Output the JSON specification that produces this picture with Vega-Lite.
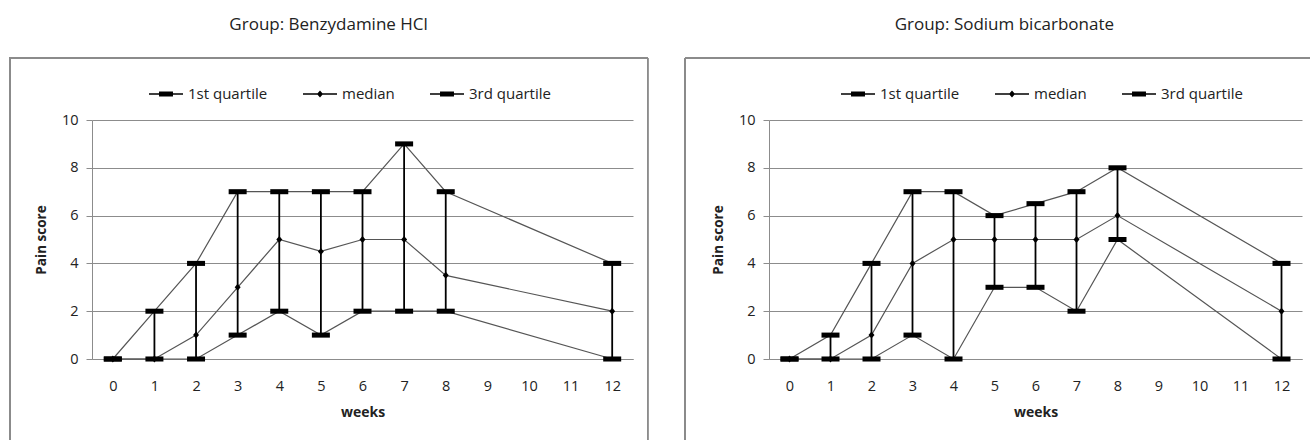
{
  "$schema": "https://vega.github.io/schema/vega-lite/v6.json",
  "padding": {"left": 9, "top": 15, "right": 0, "bottom": 0},
  "background": "white",
  "config": {"font": "Open Sans", "view": {"stroke": null}},
  "data": {"values": [
    {"group": "Benzydamine HCl", "week": 0, "stat": "1st quartile", "value": 0},
    {"group": "Benzydamine HCl", "week": 0, "stat": "median", "value": 0},
    {"group": "Benzydamine HCl", "week": 0, "stat": "3rd quartile", "value": 0},
    {"group": "Benzydamine HCl", "week": 1, "stat": "1st quartile", "value": 0},
    {"group": "Benzydamine HCl", "week": 1, "stat": "median", "value": 0},
    {"group": "Benzydamine HCl", "week": 1, "stat": "3rd quartile", "value": 2},
    {"group": "Benzydamine HCl", "week": 2, "stat": "1st quartile", "value": 0},
    {"group": "Benzydamine HCl", "week": 2, "stat": "median", "value": 1},
    {"group": "Benzydamine HCl", "week": 2, "stat": "3rd quartile", "value": 4},
    {"group": "Benzydamine HCl", "week": 3, "stat": "1st quartile", "value": 1},
    {"group": "Benzydamine HCl", "week": 3, "stat": "median", "value": 3},
    {"group": "Benzydamine HCl", "week": 3, "stat": "3rd quartile", "value": 7},
    {"group": "Benzydamine HCl", "week": 4, "stat": "1st quartile", "value": 2},
    {"group": "Benzydamine HCl", "week": 4, "stat": "median", "value": 5},
    {"group": "Benzydamine HCl", "week": 4, "stat": "3rd quartile", "value": 7},
    {"group": "Benzydamine HCl", "week": 5, "stat": "1st quartile", "value": 1},
    {"group": "Benzydamine HCl", "week": 5, "stat": "median", "value": 4.5},
    {"group": "Benzydamine HCl", "week": 5, "stat": "3rd quartile", "value": 7},
    {"group": "Benzydamine HCl", "week": 6, "stat": "1st quartile", "value": 2},
    {"group": "Benzydamine HCl", "week": 6, "stat": "median", "value": 5},
    {"group": "Benzydamine HCl", "week": 6, "stat": "3rd quartile", "value": 7},
    {"group": "Benzydamine HCl", "week": 7, "stat": "1st quartile", "value": 2},
    {"group": "Benzydamine HCl", "week": 7, "stat": "median", "value": 5},
    {"group": "Benzydamine HCl", "week": 7, "stat": "3rd quartile", "value": 9},
    {"group": "Benzydamine HCl", "week": 8, "stat": "1st quartile", "value": 2},
    {"group": "Benzydamine HCl", "week": 8, "stat": "median", "value": 3.5},
    {"group": "Benzydamine HCl", "week": 8, "stat": "3rd quartile", "value": 7},
    {"group": "Benzydamine HCl", "week": 12, "stat": "1st quartile", "value": 0},
    {"group": "Benzydamine HCl", "week": 12, "stat": "median", "value": 2},
    {"group": "Benzydamine HCl", "week": 12, "stat": "3rd quartile", "value": 4},
    {"group": "Sodium bicarbonate", "week": 0, "stat": "1st quartile", "value": 0},
    {"group": "Sodium bicarbonate", "week": 0, "stat": "median", "value": 0},
    {"group": "Sodium bicarbonate", "week": 0, "stat": "3rd quartile", "value": 0},
    {"group": "Sodium bicarbonate", "week": 1, "stat": "1st quartile", "value": 0},
    {"group": "Sodium bicarbonate", "week": 1, "stat": "median", "value": 0},
    {"group": "Sodium bicarbonate", "week": 1, "stat": "3rd quartile", "value": 1},
    {"group": "Sodium bicarbonate", "week": 2, "stat": "1st quartile", "value": 0},
    {"group": "Sodium bicarbonate", "week": 2, "stat": "median", "value": 1},
    {"group": "Sodium bicarbonate", "week": 2, "stat": "3rd quartile", "value": 4},
    {"group": "Sodium bicarbonate", "week": 3, "stat": "1st quartile", "value": 1},
    {"group": "Sodium bicarbonate", "week": 3, "stat": "median", "value": 4},
    {"group": "Sodium bicarbonate", "week": 3, "stat": "3rd quartile", "value": 7},
    {"group": "Sodium bicarbonate", "week": 4, "stat": "1st quartile", "value": 0},
    {"group": "Sodium bicarbonate", "week": 4, "stat": "median", "value": 5},
    {"group": "Sodium bicarbonate", "week": 4, "stat": "3rd quartile", "value": 7},
    {"group": "Sodium bicarbonate", "week": 5, "stat": "1st quartile", "value": 3},
    {"group": "Sodium bicarbonate", "week": 5, "stat": "median", "value": 5},
    {"group": "Sodium bicarbonate", "week": 5, "stat": "3rd quartile", "value": 6},
    {"group": "Sodium bicarbonate", "week": 6, "stat": "1st quartile", "value": 3},
    {"group": "Sodium bicarbonate", "week": 6, "stat": "median", "value": 5},
    {"group": "Sodium bicarbonate", "week": 6, "stat": "3rd quartile", "value": 6.5},
    {"group": "Sodium bicarbonate", "week": 7, "stat": "1st quartile", "value": 2},
    {"group": "Sodium bicarbonate", "week": 7, "stat": "median", "value": 5},
    {"group": "Sodium bicarbonate", "week": 7, "stat": "3rd quartile", "value": 7},
    {"group": "Sodium bicarbonate", "week": 8, "stat": "1st quartile", "value": 5},
    {"group": "Sodium bicarbonate", "week": 8, "stat": "median", "value": 6},
    {"group": "Sodium bicarbonate", "week": 8, "stat": "3rd quartile", "value": 8},
    {"group": "Sodium bicarbonate", "week": 12, "stat": "1st quartile", "value": 0},
    {"group": "Sodium bicarbonate", "week": 12, "stat": "median", "value": 2},
    {"group": "Sodium bicarbonate", "week": 12, "stat": "3rd quartile", "value": 4}
  ]},
  "spacing": 35,
  "resolve": {"scale": {"shape": "independent", "x": "independent", "y": "independent"}, "legend": {"shape": "independent"}},
  "hconcat": [
    {
      "title": {"text": "Group: Benzydamine HCl", "fontSize": 17, "fontWeight": "normal", "color": "#222", "offset": 24, "frame": "bounds", "anchor": "middle"},
      "width": 541,
      "height": 239,
      "transform": [{"filter": "datum.group === 'Benzydamine HCl'"}],
      "layer": [
        {
          "mark": {"type": "rect", "fillOpacity": 0, "stroke": "#8c8c8c", "strokeWidth": 1},
          "encoding": {
            "x": {"datum": -2.48, "type": "quantitative", "title": "weeks"},
            "x2": {"datum": 12.85},
            "y": {"datum": 12.59, "type": "quantitative", "title": "Pain score"},
            "y2": {"datum": -3.6}
          }
        },
        {
          "mark": {"type": "line", "color": "#555555", "strokeWidth": 1.2},
          "encoding": {
            "x": {"field": "week", "type": "quantitative", "title": "weeks",
              "scale": {"domain": [-0.5, 12.5], "nice": false, "zero": false},
              "axis": {"values": [0,1,2,3,4,5,6,7,8,9,10,11,12], "grid": false, "ticks": false, "domainColor": "#8c8c8c", "labelFontSize": 14.5, "labelColor": "#222", "labelPadding": 20, "titleFontSize": 14, "titleFontWeight": "bold", "titleColor": "#222", "titlePadding": 13}},
            "y": {"field": "value", "type": "quantitative", "title": "Pain score",
              "scale": {"domain": [0, 10], "nice": false},
              "axis": {"values": [0,2,4,6,8,10], "grid": true, "gridColor": "#8c8c8c", "tickColor": "#8c8c8c", "tickSize": 6, "domainColor": "#8c8c8c", "labelFontSize": 14.5, "labelColor": "#222", "labelPadding": 8, "titleFontSize": 13.5, "titleFontWeight": "bold", "titleColor": "#222", "titlePadding": 13}},
            "detail": {"field": "stat"}
          }
        },
        {
          "mark": {"type": "rule", "color": "black", "strokeWidth": 1.8},
          "encoding": {
            "x": {"field": "week", "type": "quantitative", "title": "weeks"},
            "y": {"aggregate": "min", "field": "value", "type": "quantitative", "title": "Pain score"},
            "y2": {"aggregate": "max", "field": "value"}
          }
        },
        {
          "mark": {"type": "point", "filled": true, "color": "black", "opacity": 1, "size": 324},
          "encoding": {
            "x": {"field": "week", "type": "quantitative", "title": "weeks"},
            "y": {"field": "value", "type": "quantitative", "title": "Pain score"},
            "shape": {"condition": {"test": "datum.stat === 'median'", "value": "M0,-0.39L0.33,0L0,0.39L-0.33,0Z"}, "value": "M-1,-0.28H1V0.28H-1Z"}
          }
        },
        {
          "transform": [{"filter": "false"}],
          "mark": {"type": "point", "filled": true, "color": "black", "opacity": 1},
          "encoding": {
            "x": {"field": "week", "type": "quantitative", "title": "weeks"},
            "y": {"field": "value", "type": "quantitative", "title": "Pain score"},
            "shape": {"field": "stat", "type": "nominal",
              "scale": {"domain": ["1st quartile", "median", "3rd quartile"], "range": ["M-1,-0.04H1V0.04H-1ZM-0.41,-0.15H0.41V0.15H-0.41Z", "M-1,-0.04H1V0.04H-1ZM0,-0.2L0.18,0L0,0.2L-0.18,0Z", "M-1,-0.04H1V0.04H-1ZM-0.41,-0.15H0.41V0.15H-0.41Z"]},
              "legend": {"title": null, "orient": "none", "legendX": 56, "legendY": -44, "direction": "horizontal", "labelFontSize": 15, "labelColor": "#222", "columnPadding": 32, "symbolSize": 1156, "labelOffset": 4, "symbolFillColor": "black", "symbolOpacity": 1}}
          }
        }
      ]
    },
    {
      "title": {"text": "Group: Sodium bicarbonate", "fontSize": 17, "fontWeight": "normal", "color": "#222", "offset": 24, "frame": "bounds", "anchor": "middle"},
      "width": 533,
      "height": 239,
      "transform": [{"filter": "datum.group === 'Sodium bicarbonate'"}],
      "layer": [
        {
          "mark": {"type": "rect", "fillOpacity": 0, "stroke": "#8c8c8c", "strokeWidth": 1},
          "encoding": {
            "x": {"datum": -2.54, "type": "quantitative", "title": "weeks"},
            "x2": {"datum": 13.02},
            "y": {"datum": 12.59, "type": "quantitative", "title": "Pain score"},
            "y2": {"datum": -3.6}
          }
        },
        {
          "mark": {"type": "line", "color": "#555555", "strokeWidth": 1.2},
          "encoding": {
            "x": {"field": "week", "type": "quantitative", "title": "weeks",
              "scale": {"domain": [-0.5, 12.5], "nice": false, "zero": false},
              "axis": {"values": [0,1,2,3,4,5,6,7,8,9,10,11,12], "grid": false, "ticks": false, "domainColor": "#8c8c8c", "labelFontSize": 14.5, "labelColor": "#222", "labelPadding": 20, "titleFontSize": 14, "titleFontWeight": "bold", "titleColor": "#222", "titlePadding": 13}},
            "y": {"field": "value", "type": "quantitative", "title": "Pain score",
              "scale": {"domain": [0, 10], "nice": false},
              "axis": {"values": [0,2,4,6,8,10], "grid": true, "gridColor": "#8c8c8c", "tickColor": "#8c8c8c", "tickSize": 6, "domainColor": "#8c8c8c", "labelFontSize": 14.5, "labelColor": "#222", "labelPadding": 8, "titleFontSize": 13.5, "titleFontWeight": "bold", "titleColor": "#222", "titlePadding": 13}},
            "detail": {"field": "stat"}
          }
        },
        {
          "mark": {"type": "rule", "color": "black", "strokeWidth": 1.8},
          "encoding": {
            "x": {"field": "week", "type": "quantitative", "title": "weeks"},
            "y": {"aggregate": "min", "field": "value", "type": "quantitative", "title": "Pain score"},
            "y2": {"aggregate": "max", "field": "value"}
          }
        },
        {
          "mark": {"type": "point", "filled": true, "color": "black", "opacity": 1, "size": 324},
          "encoding": {
            "x": {"field": "week", "type": "quantitative", "title": "weeks"},
            "y": {"field": "value", "type": "quantitative", "title": "Pain score"},
            "shape": {"condition": {"test": "datum.stat === 'median'", "value": "M0,-0.39L0.33,0L0,0.39L-0.33,0Z"}, "value": "M-1,-0.28H1V0.28H-1Z"}
          }
        },
        {
          "transform": [{"filter": "false"}],
          "mark": {"type": "point", "filled": true, "color": "black", "opacity": 1},
          "encoding": {
            "x": {"field": "week", "type": "quantitative", "title": "weeks"},
            "y": {"field": "value", "type": "quantitative", "title": "Pain score"},
            "shape": {"field": "stat", "type": "nominal",
              "scale": {"domain": ["1st quartile", "median", "3rd quartile"], "range": ["M-1,-0.04H1V0.04H-1ZM-0.41,-0.15H0.41V0.15H-0.41Z", "M-1,-0.04H1V0.04H-1ZM0,-0.2L0.18,0L0,0.2L-0.18,0Z", "M-1,-0.04H1V0.04H-1ZM-0.41,-0.15H0.41V0.15H-0.41Z"]},
              "legend": {"title": null, "orient": "none", "legendX": 71, "legendY": -44, "direction": "horizontal", "labelFontSize": 15, "labelColor": "#222", "columnPadding": 32, "symbolSize": 1156, "labelOffset": 4, "symbolFillColor": "black", "symbolOpacity": 1}}
          }
        }
      ]
    }
  ]
}
